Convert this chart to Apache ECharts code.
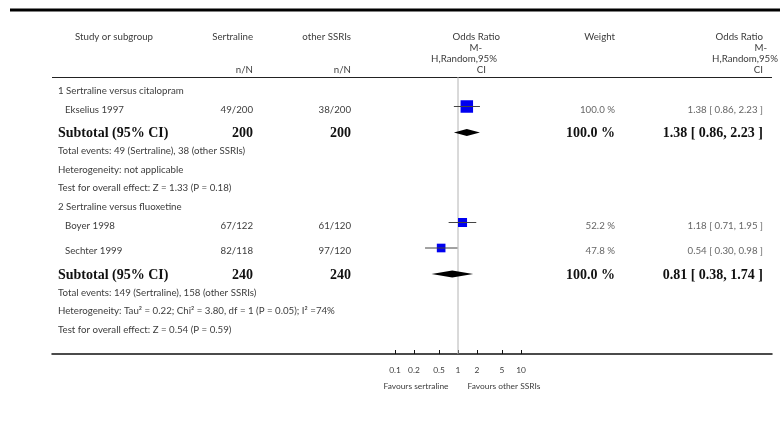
<!DOCTYPE html>
<html>
<head>
<meta charset="utf-8">
<script src="https://cdn.jsdelivr.net/npm/echarts@6/dist/echarts.min.js"></script>
<style>
  html, body { margin: 0; padding: 0; background: #fff; }
  #chart { width: 780px; height: 431px; }
</style>
</head>
<body>
<div id="chart"></div>
<script>
// ---- Data ----
const subgroupNames = ['1 Sertraline versus citalopram', '2 Sertraline versus fluoxetine'];
const studyNames = ['Ekselius 1997', 'Boyer 1998', 'Sechter 1999'];
const studySubgroup = [0, 1, 1];
const sertralineEvents = [49, 67, 82];
const sertralineTotal = [200, 122, 118];
const otherEvents = [38, 61, 97];
const otherTotal = [200, 120, 120];
const studyOR = [1.38, 1.18, 0.54];
const studyLow = [0.86, 0.71, 0.30];
const studyHigh = [2.23, 1.95, 0.98];
const studyWeight = [100.0, 52.2, 47.8];

const subgroupOR = [1.38, 0.81];
const subgroupLow = [0.86, 0.38];
const subgroupHigh = [2.23, 1.74];
const heterogeneityText = [
  'Heterogeneity: not applicable',
  'Heterogeneity: Tau\u00b2 = 0.22; Chi\u00b2 = 3.80, df = 1 (P = 0.05); I\u00b2 =74%'
];
const overallZ = [1.33, 0.54];
const overallP = [0.18, 0.59];

const tickValues = [0.1, 0.2, 0.5, 1, 2, 5, 10];
const tickLabels = ['0.1', '0.2', '0.5', '1', '2', '5', '10'];

// ---- Layout ----
const SANS = 'Lato, "Open Sans", sans-serif';
const SERIF = '"Liberation Serif", "DejaVu Serif", serif';
const BASE_FONT = '9.7px ' + SANS;
const TXT = '#3c3c3c';
const VAL = '#666';
const X_ONE = 458;      // pixel of OR = 1
const DECADE = 63;      // pixels per decade
const LINE_L = 52, LINE_R = 772;
const TOP = 77, BOTTOM = 354;
const COL_NAME = 58, COL_STUDY = 65, COL_SERT = 253, COL_OTHER = 351, COL_WEIGHT = 615, COL_OR = 763;
const GAP = { headToStudy: 15.5, studyToStudy: 25.5, studyToSub: 26, subToNote: 18.5, note: 18.5, noteToHead: 19 };

function fmt2(v) { return v.toFixed(2); }
function ciText(or, lo, hi) { return fmt2(or) + ' [ ' + fmt2(lo) + ', ' + fmt2(hi) + ' ]'; }

function text(x, y, str, opt) {
  opt = opt || {};
  const align = opt.align || 'left';
  return {
    type: 'text', x: x, y: y, silent: true,
    style: {
      text: str,
      font: opt.font || BASE_FONT,
      fill: opt.fill || TXT,
      align: align, textAlign: align,
      verticalAlign: 'middle', textVerticalAlign: 'middle'
    }
  };
}

const graphics = [];
// rules
graphics.push({ type: 'line', silent: true, shape: { x1: 10, y1: 10, x2: 780, y2: 10 }, style: { stroke: '#000', lineWidth: 3 } });
graphics.push({ type: 'line', silent: true, shape: { x1: LINE_L, y1: TOP + 0.5, x2: LINE_R, y2: TOP + 0.5 }, style: { stroke: '#222', lineWidth: 1.2 } });

// column headers
graphics.push(text(75, 37, 'Study or subgroup'));
graphics.push(text(COL_SERT, 37, 'Sertraline', { align: 'right' }));
graphics.push(text(COL_OTHER, 37, 'other SSRIs', { align: 'right' }));
graphics.push(text(COL_SERT, 70, 'n/N', { align: 'right' }));
graphics.push(text(COL_OTHER, 70, 'n/N', { align: 'right' }));
graphics.push(text(500, 37, 'Odds Ratio', { align: 'right' }));
graphics.push(text(482, 48, 'M-', { align: 'right' }));
graphics.push(text(497, 59, 'H,Random,95%', { align: 'right' }));
graphics.push(text(486, 70, 'CI', { align: 'right' }));
graphics.push(text(COL_WEIGHT, 37, 'Weight', { align: 'right' }));
graphics.push(text(COL_OR, 37, 'Odds Ratio', { align: 'right' }));
graphics.push(text(767, 48, 'M-', { align: 'right' }));
graphics.push(text(778, 59, 'H,Random,95%', { align: 'right' }));
graphics.push(text(763, 70, 'CI', { align: 'right' }));

// rows
const studyRowY = [];
const subgroupRowY = [];
let y = 91;
subgroupNames.forEach(function (name, g) {
  if (g > 0) y += GAP.noteToHead;
  graphics.push(text(COL_NAME, y, name));
  const members = [];
  studyNames.forEach(function (_, i) { if (studySubgroup[i] === g) members.push(i); });
  let sumS = 0, sumO = 0, evS = 0, evO = 0, w = 0;
  members.forEach(function (i, k) {
    y += (k === 0) ? GAP.headToStudy : GAP.studyToStudy;
    studyRowY[i] = y;
    const ty = y + 3;
    graphics.push(text(COL_STUDY, ty, studyNames[i]));
    graphics.push(text(COL_SERT, ty, sertralineEvents[i] + '/' + sertralineTotal[i], { align: 'right' }));
    graphics.push(text(COL_OTHER, ty, otherEvents[i] + '/' + otherTotal[i], { align: 'right' }));
    graphics.push(text(COL_WEIGHT, ty, studyWeight[i].toFixed(1) + ' %', { align: 'right', fill: VAL }));
    graphics.push(text(COL_OR, ty, ciText(studyOR[i], studyLow[i], studyHigh[i]), { align: 'right', fill: VAL }));
    sumS += sertralineTotal[i]; sumO += otherTotal[i];
    evS += sertralineEvents[i]; evO += otherEvents[i];
    w += studyWeight[i];
  });
  y += GAP.studyToSub;
  subgroupRowY[g] = y;
  const bold = 'bold 14px ' + SERIF;
  graphics.push(text(COL_NAME, y + 1, 'Subtotal (95% CI)', { font: bold, fill: '#111' }));
  graphics.push(text(COL_SERT, y + 1, String(sumS), { font: bold, fill: '#111', align: 'right' }));
  graphics.push(text(COL_OTHER, y + 1, String(sumO), { font: bold, fill: '#111', align: 'right' }));
  graphics.push(text(COL_WEIGHT, y + 1, w.toFixed(1) + ' %', { font: bold, fill: '#111', align: 'right' }));
  graphics.push(text(COL_OR, y + 1, ciText(subgroupOR[g], subgroupLow[g], subgroupHigh[g]), { font: bold, fill: '#111', align: 'right' }));
  y += GAP.subToNote;
  graphics.push(text(COL_NAME, y, 'Total events: ' + evS + ' (Sertraline), ' + evO + ' (other SSRIs)'));
  y += GAP.note;
  graphics.push(text(COL_NAME, y, heterogeneityText[g]));
  y += GAP.note;
  graphics.push(text(COL_NAME, y, 'Test for overall effect: Z = ' + overallZ[g].toFixed(2) + ' (P = ' + overallP[g].toFixed(2) + ')'));
});

// axis captions
graphics.push(text(416, 386, 'Favours sertraline', { align: 'center', font: '8.4px ' + SANS }));
graphics.push(text(504, 386, 'Favours other SSRIs', { align: 'center', font: '8.4px ' + SANS }));

const log = Math.log10;
const tickLogs = tickValues.map(log);

const studyData = studyNames.map(function (_, i) {
  return [log(studyOR[i]), log(studyLow[i]), log(studyHigh[i]), studyRowY[i], studyWeight[i]];
});
const subgroupData = subgroupNames.map(function (_, g) {
  return [log(subgroupOR[g]), log(subgroupLow[g]), log(subgroupHigh[g]), subgroupRowY[g]];
});

const chart = echarts.init(document.getElementById('chart'), null, { renderer: 'canvas' });
chart.setOption({
  animation: false,
  backgroundColor: '#fff',
  grid: { left: LINE_L, right: 780 - LINE_R, top: TOP, bottom: 431 - BOTTOM, containLabel: false },
  xAxis: {
    type: 'value',
    min: (LINE_L - X_ONE) / DECADE,
    max: (LINE_R - X_ONE) / DECADE,
    splitLine: { show: false },
    axisLine: { show: true, onZero: false, lineStyle: { color: '#111', width: 1.5 } },
    axisTick: { show: true, inside: true, length: 4, customValues: tickLogs, lineStyle: { color: '#111', width: 1 } },
    axisLabel: {
      show: true, customValues: tickLogs, margin: 12,
      fontSize: 8.4, fontFamily: SANS, color: TXT,
      formatter: function (v) {
        for (let i = 0; i < tickLogs.length; i++) {
          if (Math.abs(tickLogs[i] - v) < 1e-6) return tickLabels[i];
        }
        return '';
      }
    }
  },
  yAxis: { type: 'value', inverse: true, min: TOP, max: BOTTOM, show: false },
  series: [
    {
      type: 'custom',
      name: 'line of no effect',
      data: [[0, TOP], [0, BOTTOM]],
      encode: { x: 0, y: 1 },
      z: 1,
      renderItem: function (params, api) {
        if (params.dataIndex !== 0) return null;
        const a = api.coord([0, TOP]);
        const b = api.coord([0, BOTTOM]);
        return { type: 'line', shape: { x1: a[0], y1: a[1], x2: b[0], y2: b[1] }, style: { stroke: '#b4b4b4', lineWidth: 1 } };
      }
    },
    {
      type: 'custom',
      name: 'studies',
      data: studyData,
      encode: { x: [0, 1, 2], y: 3 },
      z: 3,
      renderItem: function (params, api) {
        const yy = api.value(3);
        const c = api.coord([api.value(0), yy]);
        const lo = api.coord([api.value(1), yy]);
        const hi = api.coord([api.value(2), yy]);
        const s = 12.5 * Math.sqrt(api.value(4) / 100);
        return {
          type: 'group',
          children: [
            { type: 'rect', shape: { x: c[0] - s / 2, y: c[1] - s / 2, width: s, height: s }, style: { fill: '#0000f0' } },
            { type: 'line', shape: { x1: lo[0], y1: lo[1], x2: hi[0], y2: hi[1] }, style: { stroke: '#444', lineWidth: 1 } }
          ]
        };
      }
    },
    {
      type: 'custom',
      name: 'subtotals',
      data: subgroupData,
      encode: { x: [0, 1, 2], y: 3 },
      z: 3,
      renderItem: function (params, api) {
        const yy = api.value(3);
        const c = api.coord([api.value(0), yy]);
        const lo = api.coord([api.value(1), yy]);
        const hi = api.coord([api.value(2), yy]);
        const h = 3.5;
        return {
          type: 'polygon',
          shape: { points: [[lo[0], c[1]], [c[0], c[1] - h], [hi[0], c[1]], [c[0], c[1] + h]] },
          style: { fill: '#000' }
        };
      }
    }
  ],
  graphic: graphics
});
</script>
</body>
</html>
